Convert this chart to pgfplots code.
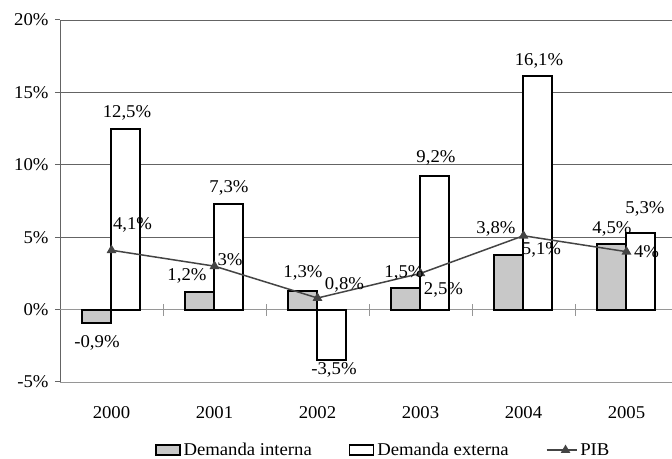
\documentclass[border=0pt]{standalone}
\usepackage{pgfplots}
\pgfplotsset{compat=1.18}
\usepackage{pgfplotstable}
\usepackage{fontspec}
\setmainfont[FakeStretch=1.04]{Liberation Serif}
\definecolor{barfill}{RGB}{200,200,200}
\definecolor{linecol}{RGB}{68,68,68}
\definecolor{gridcol}{RGB}{100,100,100}
\definecolor{zerocol}{RGB}{150,150,150}

\pgfplotstableread{
x y dx dy
0 -0.9 0 -19
1 1.2 -13 18
2 1.3 0 19
3 1.5 -2 16
4 3.8 -13 27
5 4.5 0 17
}\interna
\pgfplotstableread{
x y dx dy
0 12.5 1 17
1 7.3 0 17
2 -3.5 2 -8
3 9.2 1 20
4 16.1 1 17
5 5.3 4 25
}\externa
\pgfplotstableread{
x y dx dy
0 4.1 21 27
1 3 15.5 7
2 0.8 27 15
3 2.5 23 -15
4 5.1 18 -13
5 4 20 0
}\pib

\newcommand{\lblfont}{\fontsize{18}{21}\selectfont}

\pgfplotsset{
  lbl/.style={only marks, mark=none, forget plot,
    visualization depends on={\thisrow{dx} \as \dx},
    visualization depends on={\thisrow{dy} \as \dy},
    nodes near coords={\pgfmathprintnumber[fixed,precision=1,use comma]{\pgfplotspointmeta}\%},
    every node near coord/.append style={anchor=base, xshift=\dx pt, yshift={\dy pt-6pt}, font=\lblfont, text=black}},
}

\begin{document}
\begin{tikzpicture}[x=1pt,y=1pt]
\path[use as bounding box] (0,0) rectangle (672,458);
\begin{axis}[
  at={(60pt,76pt)}, anchor=south west,
  scale only axis, width=612pt, height=362pt,
  xmin=-0.5, xmax=5.442, ymin=-5, ymax=20,
  axis y line*=left, axis x line*=bottom,
  x axis line style={draw=zerocol, line width=0.9pt},
  y axis line style={draw=gridcol, line width=1pt},
  ytick={-5,0,5,10,15,20},
  yticklabels={-5\%,0\%,5\%,10\%,15\%,20\%},
  extra y ticks={5,10,15,20}, extra y tick labels={},
  extra y tick style={grid=major, major tick length=0pt},
  grid style={gridcol, line width=0.8pt},
  ytick style={draw=gridcol, line width=1pt},
  tick align=outside, major tick length=5pt,
  xtick={0,1,2,3,4,5}, xticklabels={2000,2001,2002,2003,2004,2005},
  xtick style={draw=none},
  tick label style={font=\lblfont},
  xticklabel style={yshift=-16pt},
  yticklabel style={xshift=-3pt},
  /pgf/number format/assume math mode=true,
  legend style={draw=none, fill=none, at={(0.529,-0.188)}, anchor=center,
    font=\lblfont, /tikz/every even column/.append style={column sep=34pt},
    nodes={inner xsep=3pt}},
  legend columns=3,
  clip=false,
]
\draw[zerocol, line width=0.9pt] (axis cs:-0.5,0) -- (axis cs:5.442,0);
\pgfplotsinvokeforeach{0.5,1.5,2.5,3.5,4.5}{
  \draw[zerocol, line width=0.9pt] ([yshift=-6pt]axis cs:#1,0) -- ([yshift=6pt]axis cs:#1,0);
}
\addplot[ybar, bar width=29pt, bar shift=-14.5pt, fill=barfill, draw=black, line width=2pt,
  legend image code/.code={\draw[fill=barfill, draw=black, line width=1.4pt] (0pt,-5pt) rectangle (24pt,5pt);}
] table[x=x,y=y] {\interna};
\addlegendentry{Demanda interna}
\addplot[ybar, bar width=29pt, bar shift=14.5pt, fill=white, draw=black, line width=2pt,
  legend image code/.code={\draw[fill=white, draw=black, line width=1.4pt] (0pt,-5pt) rectangle (24pt,5pt);}
] table[x=x,y=y] {\externa};
\addlegendentry{Demanda externa}
\addplot[sharp plot, color=linecol, line width=1.5pt, mark=triangle*, mark size=4.2pt,
  mark options={fill=linecol, solid},
  legend image code/.code={\path (0pt,0pt) -- (30pt,0pt);
    \draw[linecol, line width=1.4pt] (8pt,0pt) -- (30pt,0pt);
    \fill[linecol] (19pt,0pt) ++(90:4pt) -- ++(-120:6.9pt) -- ++(0:6.9pt) -- cycle;}
] table[x=x,y=y] {\pib};
\addlegendentry{PIB}
\addplot[lbl] table[x expr=\thisrow{x}-0.14078, y=y] {\interna};
\addplot[lbl] table[x expr=\thisrow{x}+0.14078, y=y] {\externa};
\addplot[lbl] table[x=x, y=y] {\pib};
\end{axis}
\end{tikzpicture}
\end{document}
